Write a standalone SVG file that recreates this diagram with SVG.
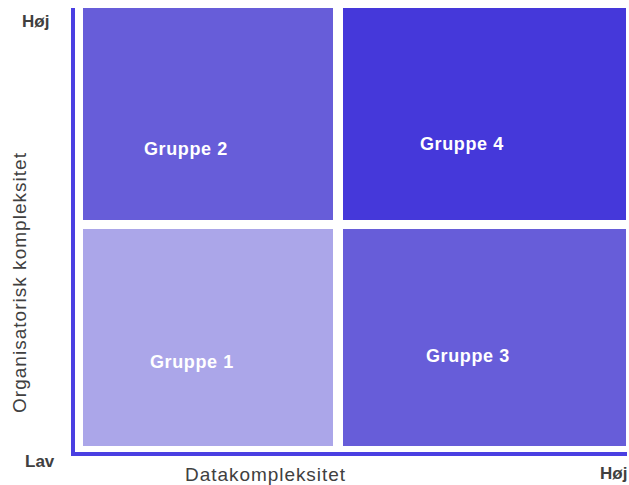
<svg xmlns="http://www.w3.org/2000/svg" width="629" height="485" viewBox="0 0 629 485">
<style>
.box{stroke:none}
.lbl{font-family:"Liberation Sans",Arial,sans-serif;font-weight:bold;font-size:18px;fill:#ffffff;letter-spacing:0.6px}
.ax{font-family:"Liberation Sans",Arial,sans-serif;font-weight:bold;font-size:17px;fill:#404040}
.axt{font-family:"Liberation Sans",Arial,sans-serif;font-size:19px;fill:#404040}
</style>
<rect width="629" height="485" fill="#ffffff"/>
<g id="group2">
<rect class="box" x="83" y="8" width="250" height="212" fill="#675DD9"/>
<text class="lbl" x="144" y="155">Gruppe 2</text>
</g>
<g id="group4">
<rect class="box" x="343" y="8" width="283" height="212" fill="#4538DA"/>
<text class="lbl" x="420" y="150">Gruppe 4</text>
</g>
<g id="group1">
<rect class="box" x="83" y="229" width="250" height="217" fill="#ABA6E9"/>
<text class="lbl" x="150" y="368">Gruppe 1</text>
</g>
<g id="group3">
<rect class="box" x="343" y="229" width="283" height="217" fill="#675DD9"/>
<text class="lbl" x="426" y="362">Gruppe 3</text>
</g>
<g id="connectors">
<path d="M73 8 V454 H627" fill="none" stroke="#4A3FE2" stroke-width="4"/>
</g>
<g id="labels">
<text class="ax" x="22" y="27">Høj</text>
<text class="ax" x="25" y="467">Lav</text>
<text class="ax" x="600" y="479">Høj</text>
<text class="axt" x="265" y="481" text-anchor="middle" textLength="160" lengthAdjust="spacing">Datakompleksitet</text>
<text class="axt" transform="translate(26 283) rotate(-90)" text-anchor="middle" textLength="260" lengthAdjust="spacing">Organisatorisk kompleksitet</text>
</g>
</svg>
